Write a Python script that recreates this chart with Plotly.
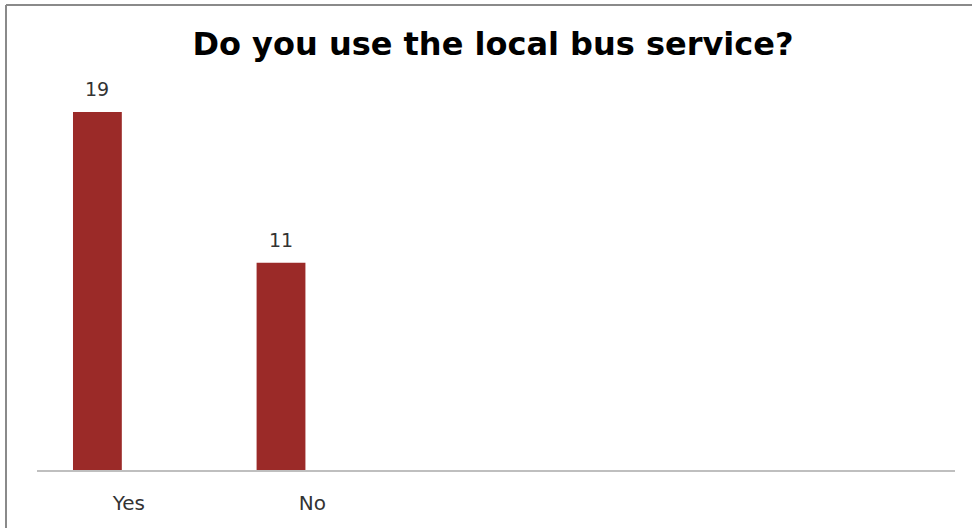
import plotly.graph_objects as go

categories = ["Yes", "No"]
values = [19, 11]
slot_count = 5

bar_width = 0.266
bar_offset = -0.304
x_pos = list(range(len(categories)))

fig = go.Figure()
fig.add_trace(go.Bar(
    x=x_pos, y=values, width=bar_width, offset=bar_offset,
    marker=dict(color="#9b2a28", line=dict(width=0)),
    hoverinfo="skip", showlegend=False,
))

for xi, v in zip(x_pos, values):
    fig.add_annotation(
        x=xi + bar_offset + bar_width / 2, y=v, text=str(v),
        showarrow=False, yanchor="bottom", yshift=10,
        font=dict(family="DejaVu Sans", size=19, color="#333333"),
    )

W, H = 972, 528
L, R, T, B = 37, 17, 60, 58
pw, ph = W - L - R, H - T - B

fig.update_layout(
    width=W, height=H,
    margin=dict(l=L, r=R, t=T, b=B),
    paper_bgcolor="white", plot_bgcolor="white",
    title=dict(
        text="<b>Do you use the local bus service?</b>",
        x=493 / W, xanchor="center", y=1 - 44 / H, yanchor="middle",
        font=dict(family="DejaVu Sans", size=32, color="#000000"),
    ),
    xaxis=dict(
        range=[-0.5, slot_count - 0.5], tickmode="array",
        tickvals=x_pos, ticktext=categories,
        showgrid=False, zeroline=False, showline=True,
        linecolor="#bfbfbf", linewidth=2, ticks="", ticklabelstandoff=14,
        tickfont=dict(family="DejaVu Sans", size=20, color="#333333"),
        fixedrange=True,
    ),
    yaxis=dict(
        range=[0, ph / 18.84], visible=False, showgrid=False, zeroline=False,
        fixedrange=True,
    ),
    shapes=[
        dict(type="line", xref="paper", yref="paper",
             x0=(6 - L) / pw, x1=(6 - L) / pw,
             y0=(H - B - 5) / ph, y1=-(B + 5) / ph,
             line=dict(color="#8a8a8a", width=2)),
        dict(type="line", xref="paper", yref="paper",
             x0=(6 - L) / pw, x1=(W + 5 - L) / pw,
             y0=(H - B - 5) / ph, y1=(H - B - 5) / ph,
             line=dict(color="#8a8a8a", width=2)),
    ],
)

fig.write_html("out.html", config={"displayModeBar": False},
               post_script="document.body.style.margin='0';")
